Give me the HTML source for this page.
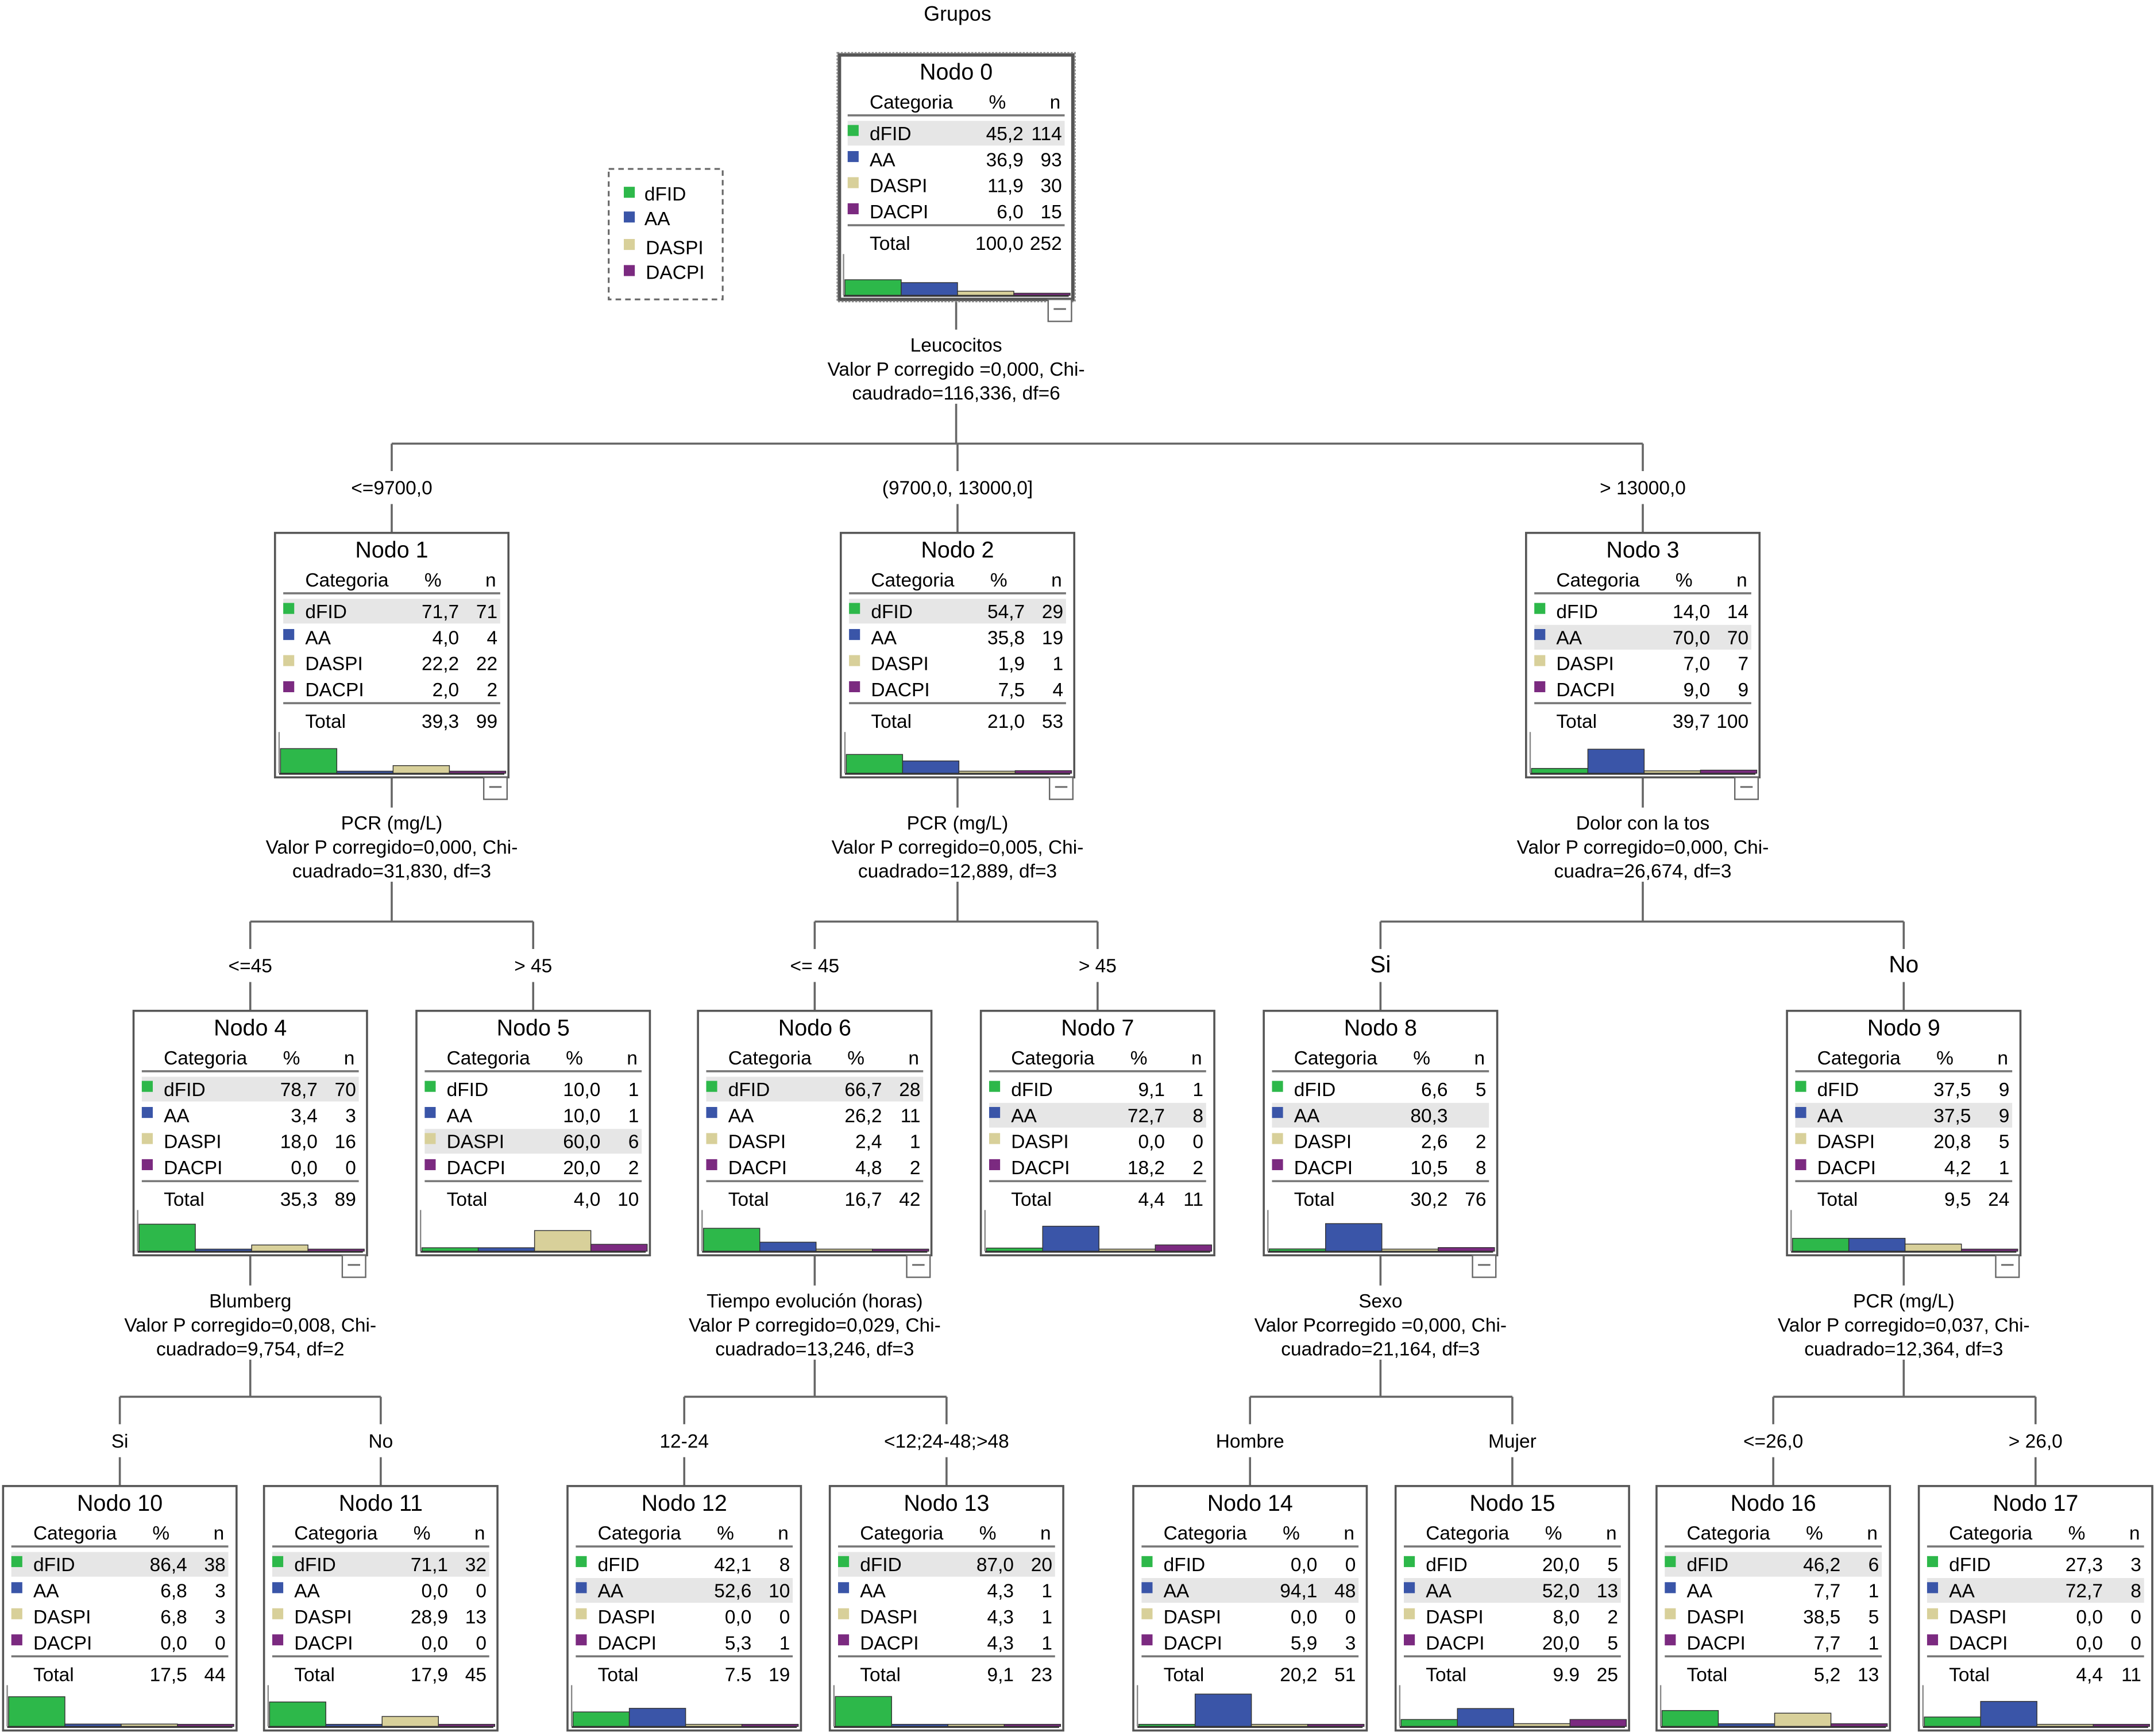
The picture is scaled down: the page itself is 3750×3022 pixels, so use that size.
<!DOCTYPE html>
<html><head><meta charset="utf-8">
<style>
html,body{margin:0;padding:0;background:#fff;}
svg{display:block;font-family:"Liberation Sans",sans-serif;}
</style></head>
<body>
<svg id="tree" width="3750" height="3022" viewBox="0 0 1568 1264" xmlns="http://www.w3.org/2000/svg">
<rect width="1568" height="1264" fill="#fff"/>
<text x="697" y="15" font-size="15" text-anchor="middle">Grupos</text>
<g>
<rect x="443" y="123" width="83" height="95" fill="none" stroke="#666" stroke-dasharray="4,3" stroke-width="1.3"/>
<rect x="454" y="136" width="8" height="8" fill="#2db84a"/><text x="469" y="146" font-size="14">dFID</text>
<rect x="454" y="154" width="8" height="8" fill="#3a55a8"/><text x="469" y="164" font-size="14">AA</text>
<rect x="454" y="174" width="8" height="8" fill="#d8d09a"/><text x="470" y="185" font-size="14">DASPI</text>
<rect x="454" y="193" width="8" height="8" fill="#7b2a80"/><text x="470" y="203" font-size="14">DACPI</text>
</g>
<g id="edges"></g>
<g id="nodes"></g>
</svg>
<script>
const categories = ["dFID","AA","DASPI","DACPI"];
const colors = ["#2db84a","#3a55a8","#d8d09a","#7b2a80"];
const nodeIds = [0,1,2,3,4,5,6,7,8,9,10,11,12,13,14,15,16,17];
const pctValues = [
 [45.2,36.9,11.9,6.0],[71.7,4.0,22.2,2.0],[54.7,35.8,1.9,7.5],[14.0,70.0,7.0,9.0],
 [78.7,3.4,18.0,0.0],[10.0,10.0,60.0,20.0],[66.7,26.2,2.4,4.8],[9.1,72.7,0.0,18.2],
 [6.6,80.3,2.6,10.5],[37.5,37.5,20.8,4.2],[86.4,6.8,6.8,0.0],[71.1,0.0,28.9,0.0],
 [42.1,52.6,0.0,5.3],[87.0,4.3,4.3,4.3],[0.0,94.1,0.0,5.9],[20.0,52.0,8.0,20.0],
 [46.2,7.7,38.5,7.7],[27.3,72.7,0.0,0.0]];
const nValues = [
 [114,93,30,15],[71,4,22,2],[29,19,1,4],[14,70,7,9],[70,3,16,0],[1,1,6,2],[28,11,1,2],[1,8,0,2],
 [5,"",2,8],[9,9,5,1],[38,3,3,0],[32,0,13,0],[8,10,0,1],[20,1,1,1],[0,48,0,3],[5,13,2,5],[6,1,5,1],[3,8,0,0]];
const totalPct = ["100,0","39,3","21,0","39,7","35,3","4,0","16,7","4,4","30,2","9,5","17,5","17,9","7.5","9,1","20,2","9.9","5,2","4,4"];
const totalN = [252,99,53,100,89,10,42,11,76,24,44,45,19,23,51,25,13,11];
const highlightRow = [0,0,0,1,0,2,0,1,1,1,0,0,1,0,1,1,0,1];
const parents = [null,0,0,0,1,1,2,2,3,3,4,4,6,6,8,8,9,9];
const branchLabels = ["","<=9700,0","(9700,0,  13000,0]","> 13000,0","<=45","> 45","<= 45","> 45","Si","No","Si","No","12-24","<12;24-48;>48","Hombre","Mujer","<=26,0","> 26,0"];
const splitText = {
 0:["Leucocitos","Valor P corregido =0,000, Chi-","caudrado=116,336, df=6"],
 1:["PCR (mg/L)","Valor P corregido=0,000, Chi-","cuadrado=31,830, df=3"],
 2:["PCR (mg/L)","Valor P corregido=0,005, Chi-","cuadrado=12,889, df=3"],
 3:["Dolor con la tos","Valor P corregido=0,000, Chi-","cuadra=26,674, df=3"],
 4:["Blumberg","Valor P corregido=0,008, Chi-","cuadrado=9,754, df=2"],
 6:["Tiempo evolución (horas)","Valor P corregido=0,029, Chi-","cuadrado=13,246, df=3"],
 8:["Sexo","Valor Pcorregido =0,000, Chi-","cuadrado=21,164, df=3"],
 9:["PCR (mg/L)","Valor P corregido=0,037, Chi-","cuadrado=12,364, df=3"]};
// layout (display coordinates)
const nodeX = [611,200,612,1111,97,303,508,714,920,1301,2,192,413,604,825,1016,1206,1397];
const rowY = {0:40,1:388,2:388,3:388,4:736,5:736,6:736,7:736,8:736,9:736};
const W=170,H=178,BARMAX=25;
const NS="http://www.w3.org/2000/svg";
const nodesG=document.getElementById('nodes'), edgesG=document.getElementById('edges');
function mk(tag,attrs,parent,txt){const e=document.createElementNS(NS,tag);for(const k in attrs)e.setAttribute(k,attrs[k]);if(txt!==undefined)e.textContent=txt;parent.appendChild(e);return e;}
function yOf(i){return rowY[i]!==undefined?rowY[i]:1082;}
nodeIds.forEach(i=>{
 const x=nodeX[i], y=yOf(i);
 const g=mk('g',{},nodesG);
 
 
 mk('rect',{x:x,y:y,width:W,height:H,fill:'#fff',stroke:'#555','stroke-width':i===0?2.5:1.5,'stroke-dasharray':i===0?'':''},g);
 if(i===0) mk('rect',{x:x-1.5,y:y-1.5,width:W+3,height:H+3,fill:'none',stroke:'#888','stroke-dasharray':'1.5,1','stroke-width':1.2},g);
 mk('text',{x:x+W/2,y:y+18,'font-size':16.5,'text-anchor':'middle'},g,'Nodo '+i);
 mk('text',{x:x+22,y:y+39,'font-size':14},g,'Categoria');
 mk('text',{x:x+115,y:y+39,'font-size':14,'text-anchor':'middle'},g,'%');
 mk('text',{x:x+161,y:y+39,'font-size':14,'text-anchor':'end'},g,'n');
 mk('line',{x1:x+6,x2:x+164,y1:y+44,y2:y+44,stroke:'#777','stroke-width':1.5},g);
 const hr=highlightRow[i];
 mk('rect',{x:x+6,y:y+48+hr*19,width:158,height:18,fill:'#e6e6e6'},g);
 categories.forEach((c,r)=>{
  const by=y+62+r*19;
  const row=mk('g',{},g);
  
  
  mk('rect',{x:x+6,y:by-11,width:8,height:8,fill:colors[r]},row);
  mk('text',{x:x+22,y:by,'font-size':14},row,c);
  mk('text',{x:x+134,y:by,'font-size':14,'text-anchor':'end'},row,pctValues[i][r].toFixed(1).replace('.',','));
  mk('text',{x:x+162,y:by,'font-size':14,'text-anchor':'end'},row,String(nValues[i][r]));
 });
 mk('line',{x1:x+6,x2:x+164,y1:y+124,y2:y+124,stroke:'#777','stroke-width':1.5},g);
 mk('text',{x:x+22,y:y+142,'font-size':14},g,'Total');
 mk('text',{x:x+134,y:y+142,'font-size':14,'text-anchor':'end'},g,totalPct[i]);
 mk('text',{x:x+162,y:y+142,'font-size':14,'text-anchor':'end'},g,String(totalN[i]));
 // bars
 const base=y+H-3, bw=41;
 mk('line',{x1:x+3,x2:x+3,y1:base-30,y2:base,stroke:'#888','stroke-width':1},g);
 pctValues[i].forEach((p,r)=>{
  const h=Math.max(1.5,p/100*BARMAX);
  const b=mk('rect',{x:x+4+r*bw,y:base-h,width:bw,height:h,fill:colors[r],stroke:'#333','stroke-width':0.6},g);
  
  
 });
 mk('line',{x1:x+3,x2:x+W-3,y1:base+0.5,y2:base+0.5,stroke:'#333','stroke-width':1.2},g);
 if(splitText[i]){
  const m=mk('g',{},g);
  
  
  mk('rect',{x:x+W-18,y:y+H,width:17,height:16,fill:'#fff',stroke:'#666','stroke-width':1},m);
  mk('line',{x1:x+W-14,x2:x+W-5,y1:y+H+7,y2:y+H+7,stroke:'#666','stroke-width':1.2},m);
 }
});
// edges and split text
Object.keys(splitText).forEach(k=>{
 const p=+k, cx=nodeX[p]+W/2, by=yOf(p)+H;
 const kids=nodeIds.filter(j=>parents[j]===p);
 const cy=yOf(kids[0]);
 const hy=cy-65;
 const t=mk('g',{},edgesG);
 
 
 splitText[p].forEach((s,l)=>mk('text',{x:cx,y:by+38+l*17.5,'font-size':14,'text-anchor':'middle'},t,s));
 mk('line',{x1:cx,x2:cx,y1:by,y2:by+22,stroke:'#666','stroke-width':1.5},edgesG);
 mk('line',{x1:cx,x2:cx,y1:by+76,y2:hy,stroke:'#666','stroke-width':1.5},edgesG);
 const xs=kids.map(j=>nodeX[j]+W/2);
 mk('line',{x1:Math.min(...xs),x2:Math.max(...xs),y1:hy,y2:hy,stroke:'#666','stroke-width':1.5},edgesG);
 kids.forEach(j=>{
  const kx=nodeX[j]+W/2;
  const big=(j===8||j===9);
  mk('line',{x1:kx,x2:kx,y1:hy,y2:hy+20,stroke:'#666','stroke-width':1.5},edgesG);
  const lb=mk('text',{x:kx,y:hy+37,'font-size':big?17:14,'text-anchor':'middle'},edgesG,branchLabels[j]);
  
  
  mk('line',{x1:kx,x2:kx,y1:hy+44,y2:cy,stroke:'#666','stroke-width':1.5},edgesG);
 });
});
</script>
</body></html>
